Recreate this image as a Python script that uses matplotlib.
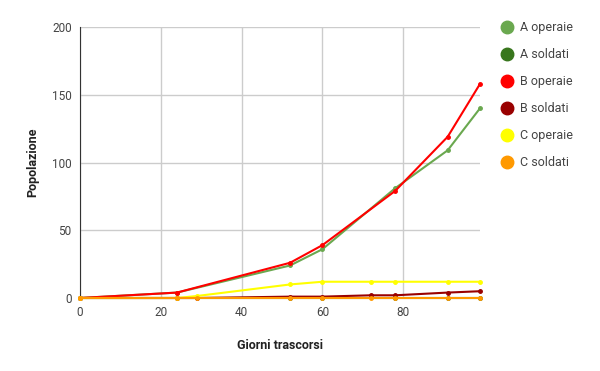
import matplotlib
matplotlib.use("Agg")
import matplotlib.pyplot as plt
from matplotlib.lines import Line2D

plt.rcParams["font.family"] = ["Roboto", "DejaVu Sans"]

# giorni trascorsi
days_ab = [0, 24, 52, 60, 78, 91, 99]
days_c = [0, 24, 29, 52, 60, 72, 78, 91, 99]

a_operaie = [0, 4, 24, 36, 81, 109, 140]
a_soldati = [0, 0, 0, 0, 0, 0, 0]
b_operaie = [0, 4, 26, 39, 79, 119, 158]
b_soldati = [0, 0, 0, 1, 1, 2, 2, 4, 5]
c_operaie = [0, 0, 1.5, 10, 12, 12, 12, 12, 12]
c_soldati = [0, 0, 0, 0, 0, 0, 0, 0, 0]

names = ["A operaie", "A soldati", "B operaie", "B soldati", "C operaie", "C soldati"]
xs = [days_ab, days_ab, days_ab, days_c, days_c, days_c]
series = [a_operaie, a_soldati, b_operaie, b_soldati, c_operaie, c_soldati]
colors = ["#6aa84f", "#38761d", "#ff0000", "#990000", "#ffff00", "#ff9900"]

fig = plt.figure(figsize=(6, 3.71), dpi=100)
ax = fig.add_axes([80 / 600, 1 - 298 / 371, 400 / 600, 271 / 371])

for x, vals, col, name in zip(xs, series, colors, names):
    ax.plot(x, vals, color=col, lw=1.5, marker="o", markersize=2.5,
            label=name, clip_on=False, zorder=3)

ax.set_xlim(0, 99)
ax.set_ylim(0, 200)
ax.set_xticks([0, 20, 40, 60, 80])
ax.set_yticks([0, 50, 100, 150, 200])
ax.grid(True, color="#cccccc", lw=1)
ax.set_axisbelow(True)
for s in ["top", "right", "bottom"]:
    ax.spines[s].set_visible(False)
ax.spines["left"].set_color("#333333")
ax.tick_params(length=0, labelsize=8.5, colors="#444444", pad=6)

ax.set_xlabel("Giorni trascorsi", fontsize=9, fontweight="bold", color="#222222", labelpad=14)
ax.set_ylabel("Popolazione", fontsize=9, fontweight="bold", color="#222222", labelpad=9)

handles = [Line2D([], [], ls="none", marker="o", markersize=9, color=c) for c in colors]
fig.legend(handles, names, loc="upper left", bbox_to_anchor=(497 / 600, 1 - 16 / 371),
           frameon=False, fontsize=9, labelcolor="#444444", handlelength=0.8,
           handletextpad=0.6, labelspacing=1.12, borderaxespad=0)

fig.savefig("out.png", dpi=100)
